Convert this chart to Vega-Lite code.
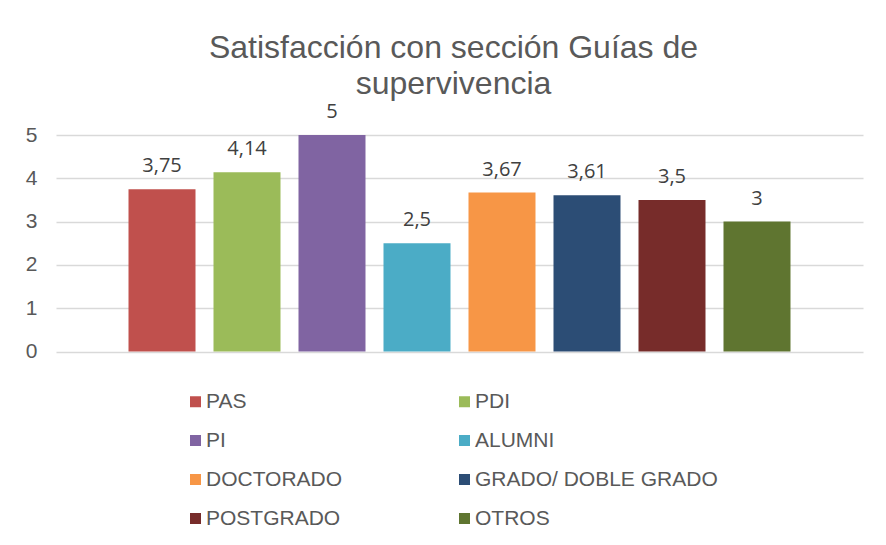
{
  "$schema": "https://vega.github.io/schema/vega-lite/v6.json",
  "autosize": {"type": "none"},
  "width": 807,
  "height": 216.5,
  "padding": {"left": 56, "top": 135, "right": 23, "bottom": 193.5},
  "background": "white",
  "title": {
    "text": ["Satisfacción con sección Guías de", "supervivencia"],
    "font": "Liberation Sans",
    "fontSize": 32,
    "fontWeight": "normal",
    "color": "#595959",
    "lineHeight": 36,
    "anchor": "middle",
    "frame": "group",
    "offset": 1,
    "dx": -6
  },
  "data": {
    "values": [
      {"grupo": "PAS", "valor": 3.75},
      {"grupo": "PDI", "valor": 4.14},
      {"grupo": "PI", "valor": 5},
      {"grupo": "ALUMNI", "valor": 2.5},
      {"grupo": "DOCTORADO", "valor": 3.67},
      {"grupo": "GRADO/ DOBLE GRADO", "valor": 3.61},
      {"grupo": "POSTGRADO", "valor": 3.5},
      {"grupo": "OTROS", "valor": 3}
    ]
  },
  "encoding": {
    "x": {
      "field": "grupo",
      "type": "nominal",
      "sort": null,
      "axis": null,
      "scale": {"paddingInner": 0.2118, "paddingOuter": 0.853}
    },
    "y": {
      "field": "valor",
      "type": "quantitative",
      "scale": {"domain": [0, 5]},
      "axis": {
        "title": null,
        "values": [0, 1, 2, 3, 4, 5],
        "domain": false,
        "ticks": false,
        "grid": true,
        "gridColor": "#d9d9d9",
        "gridWidth": 1.5,
        "labelFont": "Liberation Sans",
        "labelFontSize": 21,
        "labelColor": "#595959",
        "labelPadding": 19
      }
    }
  },
  "layer": [
    {
      "mark": {"type": "bar"},
      "encoding": {
        "color": {
          "field": "grupo",
          "type": "nominal",
          "scale": {
            "domain": ["PAS", "PDI", "PI", "ALUMNI", "DOCTORADO", "GRADO/ DOBLE GRADO", "POSTGRADO", "OTROS"],
            "range": ["#C0504D", "#9BBB59", "#8064A2", "#4BACC6", "#F79646", "#2C4D75", "#772C2A", "#5F7530"]
          },
          "legend": {
            "title": null,
            "orient": "none",
            "legendX": 129,
            "legendY": 256,
            "padding": 0,
            "columns": 2,
            "direction": "horizontal",
            "columnPadding": 111,
            "rowPadding": 17,
            "symbolType": "square",
            "symbolSize": 121,
            "symbolStrokeWidth": 0,
            "labelFont": "Liberation Sans",
            "labelFontSize": 21,
            "labelColor": "#595959",
            "labelOffset": 0,
            "labelLimit": 400
          }
        }
      }
    },
    {
      "mark": {"type": "text", "baseline": "alphabetic", "dy": -17, "font": "Open Sans", "fontSize": 20, "color": "#404040"},
      "encoding": {
        "text": {"field": "valor", "type": "quantitative", "format": ".3~g"}
      }
    }
  ],
  "config": {
    "locale": {
      "number": {"decimal": ",", "thousands": ".", "grouping": [3], "currency": ["", " €"]}
    },
    "view": {"stroke": null}
  }
}
